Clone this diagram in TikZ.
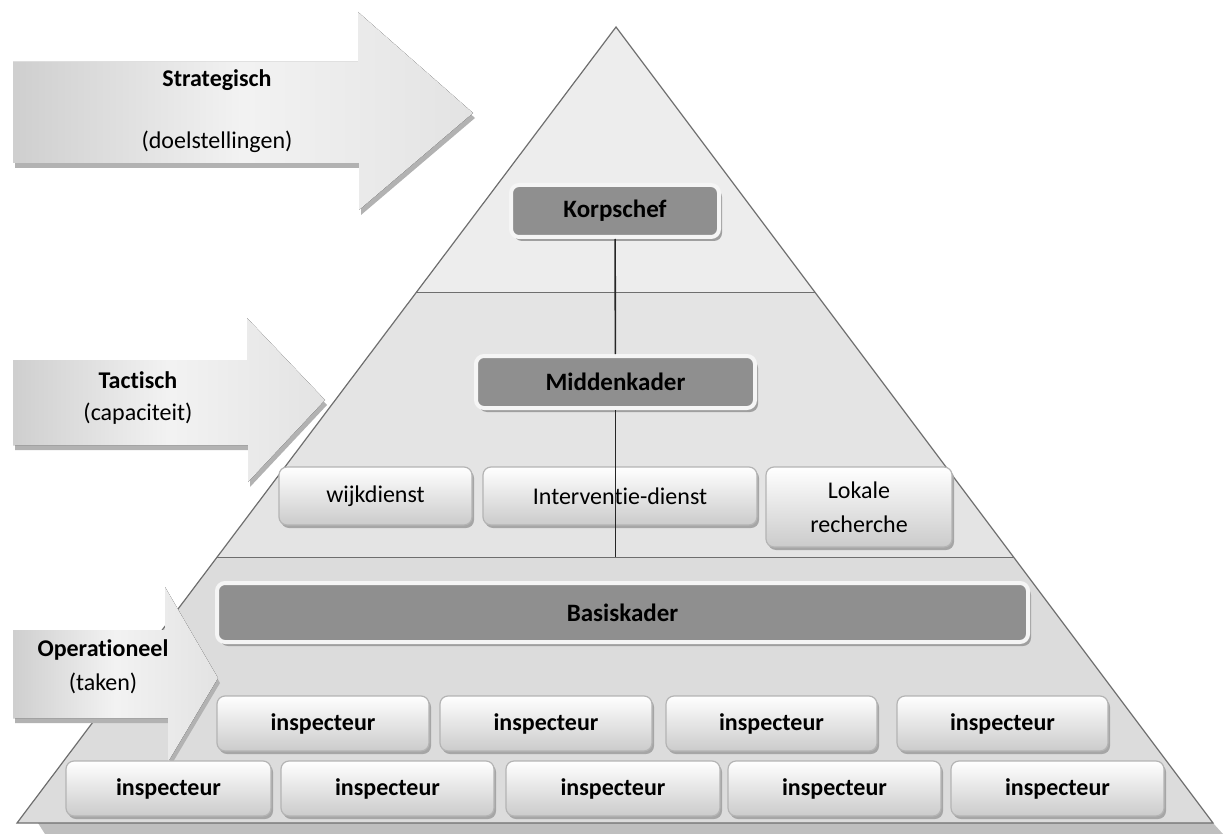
\documentclass[tikz,border=0pt]{standalone}
\usepackage{fontspec}
\setmainfont[Ligatures=NoCommon]{Carlito}
\usetikzlibrary{calc,shadows}
\definecolor{darkfill}{HTML}{8F8F8F}
\definecolor{edgegray}{HTML}{6E6E6E}
\definecolor{tierA}{HTML}{EDEDED}
\definecolor{tierB}{HTML}{E4E4E4}
\definecolor{tierC}{HTML}{DCDCDC}
\definecolor{boxedge}{HTML}{B4B4B4}
\definecolor{boxbottom}{HTML}{CBCBCB}
\definecolor{rimwhite}{HTML}{F5F5F5}

\begin{document}
\begin{tikzpicture}[x=0.5pt, y=-0.5pt,
  darkbox/.style={draw=rimwhite, line width=2pt, fill=darkfill, rounded corners=4pt,
    drop shadow={shadow xshift=1.5pt, shadow yshift=-2pt, fill=gray!75, opacity=1},
    font=\fontsize{12.5}{15}\selectfont\bfseries, inner sep=0pt},
  lightbox/.style={draw=boxedge, line width=0.6pt, top color=white, bottom color=boxbottom,
    rounded corners=4pt,
    drop shadow={shadow xshift=1pt, shadow yshift=-1.5pt, fill=gray!70, opacity=1},
    font=\fontsize{12}{17}\selectfont, align=center, inner sep=0pt},
  inspbox/.style={lightbox, font=\fontsize{12}{14}\selectfont\bfseries, minimum height=27.5pt},
  armfill/.style={left color=gray!38, right color=gray!22, middle color=gray!10},
  armshadow/.style={fill=gray!60},
  bandtitle/.style={font=\fontsize{12}{14}\selectfont\bfseries, inner sep=0pt},
  bandnote/.style={font=\fontsize{12}{14}\selectfont, inner sep=0pt},
  connector/.style={draw=black!85, line width=0.8pt}
]
\useasboundingbox (0,0) rectangle (1225,834);

\coordinate (apex) at (616,27);
\coordinate (bl) at (17,823);
\coordinate (br) at (1213,823);
\coordinate (a1) at ($(apex)!0.334!(bl)$);
\coordinate (b1) at ($(apex)!0.334!(br)$);
\coordinate (a2) at ($(apex)!0.666!(bl)$);
\coordinate (b2) at ($(apex)!0.666!(br)$);

\fill[gray!50] (38,823) -- (1213,823) -- (1223,834) -- (45,834) -- cycle;
\fill[tierA] (apex) -- (a1) -- (b1) -- cycle;
\fill[tierB] (a1) -- (a2) -- (b2) -- (b1) -- cycle;
\fill[tierC] (a2) -- (bl) -- (br) -- (b2) -- cycle;
\draw[edgegray, line width=0.6pt] (apex) -- (bl) -- (br) -- cycle;
\draw[edgegray, line width=0.6pt] (a1) -- (b1);
\draw[edgegray, line width=0.6pt] (a2) -- (b2);

\fill[armshadow, shift={(2,5)}] (13,62) -- (358,62) -- (358,12) -- (473,113) -- (359,210) -- (359,163) -- (13,163) -- cycle;
\fill[armfill] (13,62) -- (358,62) -- (358,12) -- (473,113) -- (359,210) -- (359,163) -- (13,163) -- cycle;
\fill[armshadow, shift={(2,5)}] (13,360) -- (247,360) -- (247,318) -- (325,400) -- (248,482) -- (248,445) -- (13,445) -- cycle;
\fill[armfill] (13,360) -- (247,360) -- (247,318) -- (325,400) -- (248,482) -- (248,445) -- (13,445) -- cycle;
\fill[armshadow, shift={(2,5)}] (13,630) -- (165,630) -- (165,587) -- (218,678) -- (168,762) -- (168,718) -- (13,718) -- cycle;
\fill[armfill] (13,630) -- (165,630) -- (165,587) -- (218,678) -- (168,762) -- (168,718) -- (13,718) -- cycle;

\node[bandtitle] (strategisch) at (217,80) {Strategisch};
\node[bandnote] (doelen) at (217,142) {(doelstellingen)};
\node[bandtitle] (tactisch) at (138,380) {Tactisch};
\node[bandnote] (capaciteit) at (138,414) {(capaciteit)};
\node[bandtitle] (operationeel) at (103,650) {Operationeel};
\node[bandnote] (taken) at (103,683) {(taken)};

\node[darkbox, minimum width=104pt, minimum height=26pt] (korpschef) at (615,211) {Korpschef};
\node[darkbox, minimum width=139.5pt, minimum height=26pt] (midden) at (615.5,382) {Middenkader};
\node[lightbox, minimum width=96.5pt, minimum height=29pt] (wijk) at (375.5,496) {wijkdienst};
\node[lightbox, minimum width=137pt, minimum height=29pt] (interventie) at (620,496) {Interventie-dienst};
\node[lightbox, minimum width=93pt, minimum height=40pt] (lokale) at (859,507) {Lokale\\recherche};
\node[darkbox, minimum width=405.5pt, minimum height=29.5pt] (basis) at (622.5,612.5) {Basiskader};

\node[inspbox, minimum width=106pt] (insp1) at (323,723.5) {inspecteur};
\node[inspbox, minimum width=106pt] (insp2) at (546,723.5) {inspecteur};
\node[inspbox, minimum width=105.5pt] (insp3) at (771.5,723.5) {inspecteur};
\node[inspbox, minimum width=105.5pt] (insp4) at (1002.5,723.5) {inspecteur};
\node[inspbox, minimum width=102.5pt] (insp5) at (168.5,788.5) {inspecteur};
\node[inspbox, minimum width=106.5pt] (insp6) at (387.5,788.5) {inspecteur};
\node[inspbox, minimum width=107pt] (insp7) at (613,788.5) {inspecteur};
\node[inspbox, minimum width=106.5pt] (insp8) at (834.5,788.5) {inspecteur};
\node[inspbox, minimum width=106.5pt] (insp9) at (1057.5,788.5) {inspecteur};

\coordinate (split) at (midden.south |- a2);
\draw[connector] (korpschef) -- (midden);
\draw[connector] (midden) -- (split);
\end{tikzpicture}
\end{document}
